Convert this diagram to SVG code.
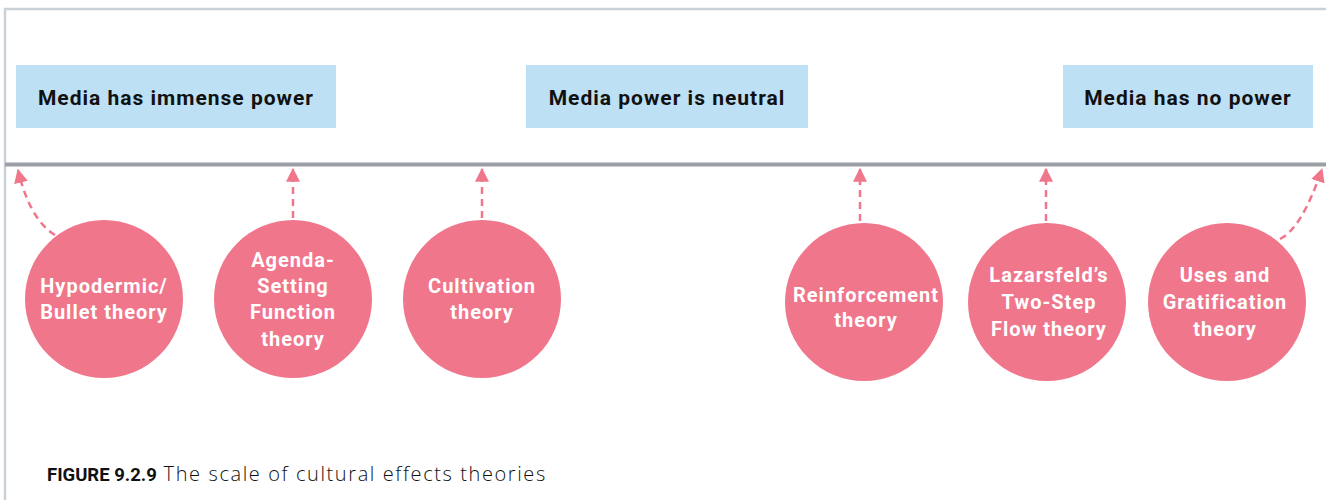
<svg xmlns="http://www.w3.org/2000/svg" width="1326" height="500" viewBox="0 0 1326 500">
<defs>
<style>
.box{fill:#bde0f5}
.bt{font-family:Roboto,"Liberation Sans",sans-serif;font-weight:700;font-size:21px;fill:#111;text-anchor:middle;letter-spacing:1px}
.c{fill:#f0768b}
.ct{font-family:Roboto,"Liberation Sans",sans-serif;font-weight:700;font-size:20px;fill:#fff;text-anchor:middle;letter-spacing:1px}
.con{fill:none;stroke:#f0768b;stroke-width:2.5;stroke-dasharray:7,5}
</style>
<marker id="ah2" viewBox="0 0 12 12" refX="11" refY="6" markerWidth="14" markerHeight="14" orient="auto" markerUnits="userSpaceOnUse">
<path d="M0,0 L12,6 L0,12 z" fill="#f0768b"/>
</marker>
</defs>
<rect width="1326" height="500" fill="#fff"/>
<path d="M5,500 V9 H1326" fill="none" stroke="#c8d0d8" stroke-width="2.5"/>
<line x1="5" y1="164.5" x2="1326" y2="164.5" stroke="#9aa0a6" stroke-width="4"/>

<g id="box-immense"><rect class="box" x="16" y="65" width="320" height="63"/><text class="bt" x="176" y="105">Media has immense power</text></g>
<g id="box-neutral"><rect class="box" x="526" y="65" width="282" height="63"/><text class="bt" x="667" y="105">Media power is neutral</text></g>
<g id="box-nopower"><rect class="box" x="1063" y="65" width="250" height="63"/><text class="bt" x="1188" y="105">Media has no power</text></g>

<g id="connectors">
<path class="con" d="M55,235 Q30,220 18,170" marker-end="url(#ah2)"/>
<path class="con" d="M293,218 V169" marker-end="url(#ah2)"/>
<path class="con" d="M482,218 V169" marker-end="url(#ah2)"/>
<path class="con" d="M860,221 V169" marker-end="url(#ah2)"/>
<path class="con" d="M1046,221 V169" marker-end="url(#ah2)"/>
<path class="con" d="M1280,239 Q1302,228 1322,169" marker-end="url(#ah2)"/>
</g>

<g id="n-hypodermic"><circle class="c" cx="104" cy="299" r="79"/><text class="ct" x="104" y="293">Hypodermic/</text><text class="ct" x="104" y="319">Bullet theory</text></g>
<g id="n-agenda"><circle class="c" cx="293" cy="299" r="79"/><text class="ct" x="293" y="267">Agenda-</text><text class="ct" x="293" y="293">Setting</text><text class="ct" x="293" y="319">Function</text><text class="ct" x="293" y="346">theory</text></g>
<g id="n-cultivation"><circle class="c" cx="482" cy="299" r="79"/><text class="ct" x="482" y="293">Cultivation</text><text class="ct" x="482" y="319">theory</text></g>
<g id="n-reinforcement"><circle class="c" cx="864" cy="302" r="79"/><text class="ct" x="866" y="302" letter-spacing="0.4">Reinforcement</text><text class="ct" x="866" y="327">theory</text></g>
<g id="n-lazarsfeld"><circle class="c" cx="1047" cy="302" r="79"/><text class="ct" x="1049" y="282">Lazarsfeld’s</text><text class="ct" x="1049" y="309">Two-Step</text><text class="ct" x="1049" y="336">Flow theory</text></g>
<g id="n-uses"><circle class="c" cx="1227" cy="302" r="79"/><text class="ct" x="1225" y="282">Uses and</text><text class="ct" x="1225" y="309">Gratification</text><text class="ct" x="1225" y="336">theory</text></g>

<text x="47" y="481" font-family="Roboto,'Liberation Sans',sans-serif" font-size="18.5" fill="#111"><tspan font-weight="700">FIGURE 9.2.9</tspan><tspan font-family="'Open Sans',Roboto,sans-serif" font-weight="300" font-size="20" letter-spacing="1.6"> The scale of cultural effects theories</tspan></text>
</svg>
